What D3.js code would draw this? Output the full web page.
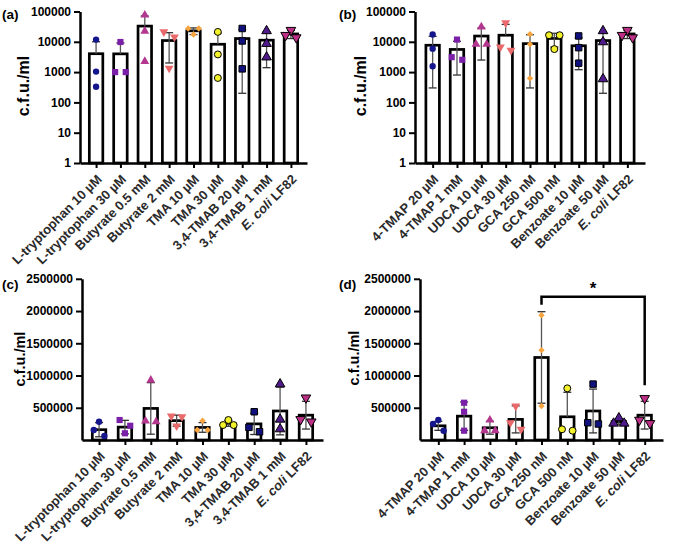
<!DOCTYPE html>
<html><head><meta charset="utf-8">
<script src="https://cdn.jsdelivr.net/npm/d3@7"></script>
<style>
body{margin:0;background:#fff}
text{font-family:"Liberation Sans",Arial,Helvetica,sans-serif;font-weight:bold}
</style>
</head><body>
<svg id="chart" width="687" height="554"></svg>
<script>
// ---------- data ----------
const catsA = ["L-tryptophan 10 µM","L-tryptophan 30 µM","Butyrate 0.5 mM","Butyrate 2 mM","TMA 10 µM","TMA 30 µM","3,4-TMAB 20 µM","3,4-TMAB 1 mM","E. coli LF82"];
const catsB = ["4-TMAP 20 µM","4-TMAP 1 mM","UDCA 10 µM","UDCA 30 µM","GCA 250 nM","GCA 500 nM","Benzoate 10 µM","Benzoate 50 µM","E. coli LF82"];
const logTicks = [1,10,100,1000,10000,100000];
const linTicks = [500000,1000000,1500000,2000000,2500000];
const panelLabels = ["(a)","(b)","(c)","(d)"];
const yTitle = "c.f.u./ml";

// panel (a)
const meanA = [4045,4000,33000,11000,23000,8300,12800,11300,18200];
const sdA   = [6000,5200,38000,9000,5700,11000,12600,9900,5400];
const ptsA  = [[11840,1040,329],[9850,1000,1000],[76500,22400,2240],[21200,14450,1340],[27500,27500,17400],[21200,3830,640],[27500,10640,1280],[22900,8700,3110],[24200,13800,16500]];
// panel (b)
const meanB = [7700,5600,15500,16500,8700,12900,7400,11000,18200];
const sdB   = [7400,4800,13000,21000,8400,6200,6200,10800,5400];
const ptsB  = [[17400,5930,1560],[11840,2550,3110],[31100,8260,8260],[42300,5210,6710],[17800,8250,621],[16500,16500,5750],[15600,6410,1970],[22900,9850,593],[24200,13800,16500]];
// panel (c)
const meanC = [160000,200000,490000,300000,195000,258000,250000,450000,385000];
const sdC   = [110000,105000,400000,85000,75000,45000,165000,370000,215000];
const ptsC  = [[283000,155000,62000],[310000,221000,104000],[929000,283000,294000],[371000,361000,217000],[299000,155000,155000],[310000,232000,232000],[438000,128000,196000],[867000,320000,170000],[655000,283000,320000]];
// panel (d)
const meanD = [220000,370000,190000,320000,1280000,360000,450000,285000,385000];
const sdD   = [70000,220000,100000,210000,710000,380000,340000,40000,215000];
const ptsD  = [[310000,248000,144000],[578000,438000,144000],[310000,144000,144000],[527000,166000,268000],[1935000,1393000,527000],[801000,144000,166000],[867000,248000,268000],[341000,258000,258000],[646000,258000,310000]];
const sigLabel = "*";

// ---------- styles ----------
const sty = [
  {type:"circle",  fill:"#16168c", stroke:"none", size:32},
  {type:"square",  fill:"#7a1fa8", stroke:"none", size:38},
  {type:"tri",     fill:"#b3368f", stroke:"none", size:34},
  {type:"tridown", fill:"#ea6a6c", stroke:"none", size:34},
  {type:"diamond", fill:"#f7a43f", stroke:"none", size:20},
  {type:"circle",  fill:"#f3f22a", stroke:"#000", size:38},
  {type:"square",  fill:"#10107e", stroke:"#000", size:42},
  {type:"tri",     fill:"#511a8c", stroke:"#000", size:40},
  {type:"tridown", fill:"#bd2f86", stroke:"#000", size:40}
];
const symType = {circle:d3.symbolCircle, square:d3.symbolSquare, tri:d3.symbolTriangle, tridown:d3.symbolTriangle, diamond:d3.symbolSquare};

const svg = d3.select("#chart");

function panel(o){
  const g = svg.append("g");
  const x = d3.scalePoint().domain(o.cats).range([o.x0, o.x1]).padding(o.pad);
  const y = o.log ? d3.scaleLog().domain([1,100000]).range([o.yb, o.yt])
                  : d3.scaleLinear().domain([0,2500000]).range([o.yb, o.yt]);
  const base = o.yb;
  const bw = 13.5;
  // bars
  g.selectAll("rect.bar").data(o.means).join("rect")
    .attr("x",(d,i)=>x(o.cats[i])-bw/2).attr("y",d=>y(d))
    .attr("width",bw).attr("height",d=>base-y(d))
    .attr("fill","#fff").attr("stroke","#000").attr("stroke-width",2.7);
  // whiskers
  o.means.forEach((m,i)=>{
    const cx = x(o.cats[i]);
    const ends = [m+o.sds[i]];
    const lo = m-o.sds[i];
    if (o.log ? lo>1 : lo>0) ends.push(lo);
    ends.forEach(e=>{
      g.append("line").attr("x1",cx).attr("x2",cx).attr("y1",y(m)).attr("y2",y(e))
        .attr("stroke","#555").attr("stroke-width",1.3);
      g.append("line").attr("x1",cx-4).attr("x2",cx+4).attr("y1",y(e)).attr("y2",y(e))
        .attr("stroke","#333").attr("stroke-width",1.3);
    });
  });
  // axes
  const ya = g.append("g").attr("transform",`translate(${o.x0},0)`)
    .call(d3.axisLeft(y).tickValues(o.log?logTicks:linTicks).tickFormat(d3.format("d")).tickSize(6).tickPadding(3).tickSizeOuter(0));
  const xa = g.append("g").attr("transform",`translate(0,${base})`)
    .call(d3.axisBottom(x).tickSize(5).tickSizeOuter(0).tickFormat(""));
  [ya,xa].forEach(a=>{
    a.select(".domain").attr("stroke","#000").attr("stroke-width",2.5);
    a.selectAll(".tick line").attr("stroke","#000").attr("stroke-width",2);
  });
  ya.selectAll(".tick text").attr("fill","#000").style("font-size","12px").style("font-family","'Liberation Sans',Arial,sans-serif").style("font-weight","bold");
  // x labels (rotated)
  xa.selectAll(".tick").each(function(d){
    const t = d3.select(this).append("text")
      .attr("text-anchor","end").attr("fill","#2a2a2a")
      .attr("transform","translate(6,17) rotate(-45)")
      .style("font-size","13px").style("font-family","'Liberation Sans',Arial,sans-serif").style("font-weight","bold");
    if (d.startsWith("E. coli")) {
      t.append("tspan").style("font-style","italic").text("E. coli");
      t.append("tspan").text(d.slice(7));
    } else t.text(d);
  });
  // points
  o.pts.forEach((arr,i)=>{
    const s = sty[i], cx = x(o.cats[i]);
    const thr = s.type==="diamond"?5.5:7;
    const items = arr.map(v=>({v, py:y(v)})).sort((a,b)=>a.py-b.py);
    const clusters=[]; let cur=[];
    items.forEach(it=>{
      if (cur.length && it.py-cur[cur.length-1].py>=thr){clusters.push(cur);cur=[];}
      cur.push(it);
    });
    if(cur.length) clusters.push(cur);
    clusters.forEach(c=>{
      if(c.length===1) c[0].dx=0;
      else if(c.length===2){c[0].dx=-5.3;c[1].dx=5.3;}
      else {c[0].dx=0;c[1].dx=-5.3;c[2].dx=5.3; for(let k=3;k<c.length;k++)c[k].dx=0;}
    });
    const sym = d3.symbol().type(symType[s.type]).size(s.size);
    items.forEach(it=>{
      let rot = s.type==="tridown"?180:(s.type==="diamond"?45:0);
      g.append("path").attr("d",sym())
        .attr("transform",`translate(${cx+it.dx},${it.py}) rotate(${rot})`)
        .attr("fill",s.fill).attr("stroke",s.stroke==="none"?null:s.stroke).attr("stroke-width",1);
    });
  });
  // y title
  g.append("text").attr("transform",`translate(${o.tx},${o.ty}) rotate(-90)`)
    .attr("text-anchor","middle").attr("dy","0.35em").style("font-size",o.tfs+"px").attr("fill","#000").text(yTitle);
  // panel label
  g.append("text").attr("x",o.lx).attr("y",o.ly).style("font-size","13.5px").attr("fill","#000").text(o.label);
  return {x,y,g};
}

panel({cats:catsA,means:meanA,sds:sdA,pts:ptsA,log:true,x0:80,x1:307,pad:0.66,yb:163,yt:11.5,tx:23,ty:86,tfs:16,lx:2,ly:19,label:panelLabels[0]});
panel({cats:catsB,means:meanB,sds:sdB,pts:ptsB,log:true,x0:415,x1:645,pad:0.725,yb:163,yt:11.5,tx:360,ty:86,tfs:16,lx:339,ly:19,label:panelLabels[1]});
panel({cats:catsA,means:meanC,sds:sdC,pts:ptsC,log:false,x0:82,x1:323,pad:0.66,yb:440,yt:278.8,tx:20,ty:359,tfs:14.5,lx:2,ly:289,label:panelLabels[2]});
const pd = panel({cats:catsB,means:meanD,sds:sdD,pts:ptsD,log:false,x0:420,x1:663,pad:0.71,yb:440,yt:278.8,tx:354,ty:358,tfs:14.5,lx:339,ly:289,label:panelLabels[3]});

// significance bracket (GCA 250 nM vs E. coli LF82)
{
  const xa = pd.x(catsB[4]), xb = pd.x(catsB[8]);
  const yTop = pd.y(meanD[4]+sdD[4]) - 15;
  const yR = pd.y(meanD[8]+sdD[8]) - 16;
  pd.g.append("path").attr("d",`M${xa},${yTop+8}V${yTop}H${xb}V${yR}`)
    .attr("fill","none").attr("stroke","#000").attr("stroke-width",2.5);
  pd.g.append("text").attr("x",(xa+xb)/2).attr("y",yTop-3).attr("text-anchor","middle")
    .style("font-size","17px").attr("fill","#000").text(sigLabel);
}
</script>
</body></html>
